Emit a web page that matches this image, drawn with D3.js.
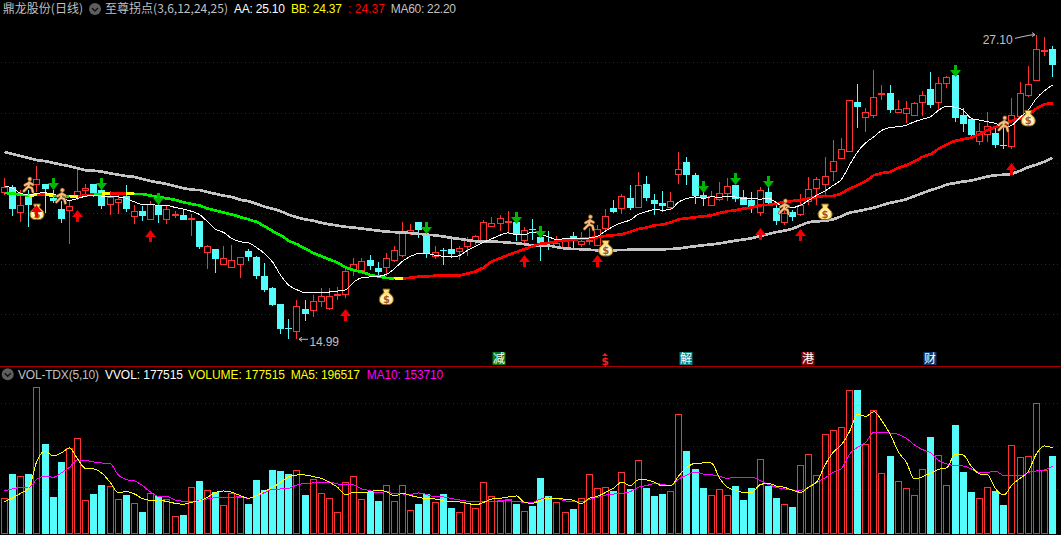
<!DOCTYPE html>
<html><head><meta charset="utf-8">
<script src="https://cdnjs.cloudflare.com/ajax/libs/d3/7.8.5/d3.min.js"></script>
<style>html,body{margin:0;padding:0;background:#000;overflow:hidden}svg{display:block}</style>
</head><body><svg id="c" width="1061" height="535"></svg>
<script>
const opens=[20.85,21.04,20.06,20.64,21.17,21.16,20.60,20.16,20.14,20.68,20.93,21.16,20.94,20.37,20.45,20.67,19.90,20.07,19.78,20.28,19.78,19.95,19.95,19.78,19.68,18.46,18.57,17.99,17.87,17.99,18.49,18.25,17.49,17.02,16.38,15.44,15.32,16.18,16.15,16.51,16.22,16.76,16.79,17.73,17.75,18.13,17.81,17.87,18.16,18.34,19.25,19.64,19.13,18.32,18.53,18.56,18.49,18.70,18.93,18.90,19.51,19.63,19.68,19.66,18.95,19.37,
19.07,18.75,18.66,18.66,19.09,18.77,18.91,18.73,19.42,20.20,20.21,20.60,20.25,21.16,20.52,20.40,20.24,21.57,22.03,21.51,20.72,20.33,20.57,20.81,21.12,20.63,20.52,20.05,20.84,20.20,19.66,20.04,
19.97,20.50,21.02,21.15,21.66,22.18,22.46,24.41,23.81,23.89,24.74,24.76,24.01,23.99,23.91,24.41,24.92,24.41,25.16,25.49,23.89,23.73,22.88,23.17,23.19,22.71,22.69,23.86,24.72,25.31,26.46,26.52];
const closes=[21.06,20.16,20.31,20.32,21.38,20.96,20.48,19.76,20.27,20.90,21.02,20.80,20.28,20.63,20.56,20.15,20.07,19.90,20.37,19.92,20.15,19.99,19.72,19.82,18.65,18.68,18.17,18.24,18.16,18.28,18.25,17.49,16.94,16.35,15.40,15.41,16.30,15.98,16.50,16.72,16.72,16.80,17.72,17.99,18.12,17.89,17.65,18.24,18.52,19.22,19.35,19.33,18.40,18.48,18.50,18.37,18.60,18.99,19.09,19.67,19.63,19.83,19.71,19.17,19.35,19.34,
18.82,18.69,18.83,18.91,18.90,18.91,18.95,19.39,19.91,20.04,20.70,20.20,21.14,20.60,20.36,20.28,20.47,21.74,21.53,20.68,20.59,20.67,20.82,21.10,20.57,20.32,20.23,20.94,20.39,19.70,20.03,19.86,
20.32,20.98,21.38,21.50,22.06,22.57,24.49,24.22,24.03,24.63,24.76,24.11,24.13,24.19,24.39,24.69,24.31,25.16,25.40,23.80,23.54,23.11,23.25,23.48,22.72,22.68,23.91,24.79,25.12,26.52,26.50,25.91];
const highs=[21.39,21.12,20.92,20.92,21.87,21.18,20.92,20.48,20.48,21.79,21.18,21.16,21.32,20.88,20.76,21.12,20.31,20.28,20.48,20.39,20.31,20.10,20.15,19.99,19.68,18.73,18.57,18.69,18.73,18.28,18.56,18.29,18.04,17.07,16.41,15.81,16.57,16.54,16.74,17.04,17.04,17.07,17.87,18.24,18.24,18.33,18.08,18.42,18.69,19.64,19.59,19.64,19.39,18.71,18.61,19.09,18.69,19.06,19.13,19.75,19.84,19.92,20.07,19.72,19.46,19.79,
19.19,19.28,19.09,19.03,19.25,19.25,19.42,19.52,20.16,20.52,20.76,21.12,21.63,21.47,20.78,20.88,20.84,22.43,22.22,21.61,20.92,20.88,21.24,21.40,21.12,20.94,20.85,21.04,21.12,20.32,20.39,20.12,
20.78,21.45,21.45,22.24,22.93,23.00,24.49,25.12,24.17,25.69,25.10,25.10,24.50,24.47,24.43,24.87,25.61,25.40,25.45,25.49,24.17,23.77,23.60,24.03,23.44,23.37,24.60,25.23,25.85,27.10,27.00,26.65];
const lows=[20.72,19.90,19.66,19.46,20.85,20.02,20.39,19.62,18.78,20.52,20.68,20.65,20.16,19.92,19.96,20.06,19.56,19.68,19.78,19.63,19.56,19.80,19.72,19.09,18.58,17.77,17.61,17.96,17.85,17.43,18.09,17.37,16.86,16.33,15.21,15.01,14.99,15.72,15.88,16.27,16.17,16.57,16.63,17.51,17.71,17.73,17.53,17.49,18.06,18.26,19.13,19.02,18.24,18.20,17.95,18.26,18.16,18.29,18.73,18.89,19.46,19.29,19.19,18.90,18.79,18.93,
18.10,18.53,18.60,18.53,18.63,18.65,18.73,18.73,19.26,20.01,19.99,20.12,20.23,20.48,19.92,20.05,20.12,21.16,21.12,20.36,20.28,20.28,20.47,20.47,20.44,20.32,20.01,19.88,20.35,19.52,19.52,19.68,
19.89,20.32,20.32,20.72,21.29,22.18,22.44,23.40,23.24,23.77,24.50,23.99,23.97,23.60,23.90,23.88,24.19,24.07,24.96,23.62,23.24,22.97,22.71,22.84,22.61,22.54,22.54,23.77,24.63,25.30,26.26,25.43];

const ma60=[22.44,22.35,22.27,22.19,22.11,22.07,22.00,21.93,21.87,21.79,21.71,21.69,21.65,21.59,21.53,21.48,21.44,21.36,21.28,21.22,21.16,21.08,21.00,20.94,20.92,20.84,20.77,20.70,20.64,20.54,20.48,20.38,20.26,20.18,20.08,19.94,19.84,19.76,19.70,19.62,19.56,19.51,19.46,19.43,19.39,19.35,19.31,19.27,19.25,19.24,19.21,19.18,19.15,19.12,19.08,19.02,18.98,18.93,18.89,18.88,18.87,18.86,18.83,18.81,18.77,18.73,18.72,18.71,18.65,18.60,18.58,18.57,18.55,18.53,18.53,18.53,18.54,18.55,18.56,18.56,18.57,18.57,18.58,18.60,18.65,18.69,18.73,18.76,18.80,18.86,18.91,18.96,19.01,19.09,19.17,19.25,19.31,19.39,19.52,19.64,19.68,19.70,19.76,19.88,20.02,20.08,20.15,20.22,20.32,20.41,20.48,20.56,20.68,20.80,20.92,21.02,21.14,21.20,21.26,21.30,21.38,21.46,21.51,21.53,21.57,21.69,21.83,21.93,22.05,22.20];
const aa=[21.09,20.99,20.79,20.72,20.80,20.81,20.76,20.63,20.51,20.59,20.68,20.72,20.68,20.65,20.65,20.59,20.45,20.35,20.35,20.31,20.31,20.23,20.17,20.08,19.95,19.66,19.36,19.23,18.99,18.87,18.83,18.64,18.40,18.06,17.53,17.14,16.96,16.84,16.84,16.84,16.87,16.91,16.96,17.27,17.44,17.47,17.49,17.57,17.80,18.10,18.29,18.40,18.40,18.33,18.29,18.26,18.32,18.53,18.69,18.85,18.99,19.13,19.22,19.14,19.15,19.26,19.17,19.06,18.95,18.99,18.99,18.99,19.02,19.09,19.30,19.49,19.63,19.73,19.96,20.06,20.15,20.12,20.16,20.45,20.59,20.65,20.59,20.65,20.64,20.67,20.64,20.59,20.59,20.56,20.59,20.43,20.23,20.23,20.32,20.52,20.72,20.89,21.11,21.34,21.91,22.44,22.80,23.04,23.30,23.41,23.44,23.50,23.64,23.74,23.84,24.10,24.26,24.21,24.10,23.77,23.70,23.64,23.57,23.41,23.50,23.81,24.10,24.56,24.87,25.10];
const bb=[20.81,20.78,20.74,20.70,20.73,20.74,20.70,20.67,20.66,20.67,20.71,20.75,20.77,20.79,20.79,20.78,20.77,20.76,20.70,20.65,20.59,20.53,20.44,20.37,20.31,20.19,20.11,20.03,19.95,19.85,19.76,19.66,19.49,19.29,19.13,18.90,18.77,18.60,18.42,18.29,18.16,18.04,17.84,17.73,17.67,17.55,17.49,17.43,17.40,17.41,17.44,17.48,17.49,17.52,17.52,17.53,17.53,17.60,17.69,17.85,18.09,18.21,18.34,18.46,18.57,18.69,18.79,18.82,18.89,18.91,18.95,18.99,19.01,19.05,19.10,19.13,19.16,19.26,19.37,19.43,19.52,19.55,19.63,19.76,19.80,19.84,19.88,19.92,20.01,20.08,20.12,20.19,20.23,20.32,20.33,20.39,20.44,20.49,20.52,20.59,20.65,20.69,20.69,20.78,20.98,21.11,21.27,21.51,21.60,21.64,21.80,21.91,22.07,22.24,22.35,22.57,22.74,22.88,22.94,23.01,23.14,23.30,23.43,23.54,23.67,23.77,23.90,24.16,24.34,24.37];
// runs of [trend, segments]: -1 falling, 0 flat, 1 rising
const bbTrendRuns=[[-1,3],[0,1],[1,1],[0,1],[-1,2],[0,1],[1,2],[-1,1],[0,1],[1,2],[0,1],[-1,32],[0,1],[1,80]];

const volumes=[79800,136400,131000,136400,337900,206200,82900,164300,196100,219300,75200,89900,110800,107700,77500,87600,68200,48100,91500,85300,77500,38000,41100,105400,120100,98400,93800,63600,91500,82200,66700,122500,99200,145700,143400,136400,144900,87600,124000,91500,79800,47300,117800,131000,77500,94600,73600,110100,72900,110100,51900,66700,89100,71300,89900,57400,47300,67400,56600,117000,84500,73600,77500,66700,49600,62000,127100,85300,70500,47300,55000,79800,135600,103100,105400,96900,140300,101500,168200,103900,85300,89900,96900,275100,189900,148000,103900,86800,100800,86800,108500,76000,103900,170500,108500,80600,65900,59700,156600,182100,133300,228600,237900,244900,330900,331700,205400,284400,138000,178300,119400,103100,86800,147300,222400,179800,110100,250300,141100,94600,79800,105400,96900,64300,203100,175200,177500,300700,145700,177515];
const volMa5=[71300,79800,90700,103900,166600,189100,177500,184500,196100,170500,148000,147300,137200,116300,92200,94600,89100,78300,74400,75200,71300,67400,65100,69800,72900,81400,93000,96100,93000,85300,79100,85300,95300,104600,116300,129400,133300,133300,129400,125600,116300,104600,86800,93000,91500,94600,98400,94600,84500,90700,85300,81400,77500,77500,72900,72100,70500,67400,63600,69800,77500,79100,82200,84500,69800,67400,75200,79100,79100,76700,74400,66700,79100,83700,93000,103100,117000,108500,121700,121700,116300,107700,107700,131800,151100,160400,161200,161200,126300,104600,97700,92200,93000,110800,113900,107700,104600,97700,93000,105400,117800,156600,186000,203800,234100,274400,269700,280600,258900,228600,187600,162800,124000,129400,138000,146500,150400,182100,179800,153500,135600,133300,100800,86800,110100,125600,141100,182100,200700,196517];
const volMa10=[96100,100800,104600,104600,124000,131000,127900,138000,151100,168200,167400,163500,161200,159700,133300,122500,119400,108500,93000,83700,83700,75200,72100,70500,74400,77500,80600,81400,81400,82900,79100,85300,92200,100000,100800,102300,110100,113900,114700,114700,117000,112400,111600,110100,100800,96900,91500,95300,89100,89100,88400,91500,87600,82200,82200,78300,75200,72100,70500,70500,72100,72900,72900,72100,69800,69800,77500,79800,79100,72900,72100,70500,76700,81400,86800,89100,90700,94600,104600,108500,113200,111600,108500,124000,133300,140300,135600,134100,130200,125600,127900,126300,127900,120100,111600,104600,100800,98400,97700,105400,116300,126300,139500,148000,181400,197600,209300,232500,231000,231000,227900,218600,203100,192200,184500,166600,158900,155000,154200,147300,139500,139500,141800,131800,131000,131000,139500,142600,144900,153710];

const priceTicks=[16,18,20,22,24,26];
const volTicks=[100000,200000,300000];
const upArrowIdx=[4,9,18,42,64,73,93,98,124];
const upArrowPrice=[20.32,20.12,19.32,16.21,18.33,18.33,19.42,19.39,21.98];
const downArrowIdx=[6,12,19,52,63,66,86,90,94,117];
const downArrowPrice=[20.92,20.92,20.32,19.19,19.56,19.03,20.79,21.12,21.02,25.43];
const bagIdx=[4,47,74,101,126];
const bagPrice=[20.05,16.67,18.60,20.05,23.77];
const runnerIdx=[3,7,72,96,123];
const runnerPrice=[21.12,20.68,19.62,20.25,23.55];
const newsIdx=[61,74,84,99,114];
const newsText=["减","$","解","港","财"];

const RED="#ff3232",CYAN="#54fcfc",GRID="#8c0000";
const svg=d3.select("#c");
const n=closes.length;
const x=d3.scaleLinear().domain([0,129]).range([4.5,1052.6]);
const y=d3.scaleLinear().domain([16,26]).range([313.9,62.3]);
const yv=d3.scaleLinear().domain([0,300000]).range([532.3,403.3]);
const px=i=>Math.floor(x(i));

svg.append("rect").attr("width",1061).attr("height",535).attr("fill","#000");
// grid: one pixel in four, as the terminal draws it
const pat=svg.append("defs").append("pattern").attr("id","dots").attr("patternUnits","userSpaceOnUse").attr("width",4).attr("height",1);
pat.append("rect").attr("x",1).attr("width",1).attr("height",1).attr("fill",GRID);
const grid=svg.append("g").attr("shape-rendering","crispEdges");
const gridY=priceTicks.map(d=>Math.round(y(d))).concat(volTicks.map(d=>Math.round(yv(d))));
grid.selectAll("rect").data(gridY).join("rect").attr("x",0).attr("width",1061).attr("y",d=>d).attr("height",1).attr("fill","url(#dots)")
  .attr("patternTransform",null);
svg.append("line").attr("x1",0).attr("x2",1061).attr("y1",366.5).attr("y2",366.5).attr("stroke","#a80000").attr("shape-rendering","crispEdges");

// candles
const cg=svg.append("g").attr("shape-rendering","crispEdges");
d3.range(n).forEach(i=>{
  const up=closes[i]>=opens[i];
  const c=up?RED:CYAN, cx=px(i);
  const t=Math.round(y(Math.max(opens[i],closes[i]))), b=Math.round(y(Math.min(opens[i],closes[i])));
  const h=Math.round(y(highs[i])), l=Math.round(y(lows[i]));
  if(up){
    if(h<t) cg.append("line").attr("x1",cx+.5).attr("x2",cx+.5).attr("y1",h).attr("y2",t).attr("stroke",c);
    if(l>b) cg.append("line").attr("x1",cx+.5).attr("x2",cx+.5).attr("y1",b).attr("y2",l).attr("stroke",c);
    cg.append("rect").attr("x",cx-3+.5).attr("y",t+.5).attr("width",6).attr("height",Math.max(b-t,1)).attr("fill","#000").attr("stroke",c);
  }else{
    cg.append("line").attr("x1",cx+.5).attr("x2",cx+.5).attr("y1",h).attr("y2",l).attr("stroke",c);
    cg.append("rect").attr("x",cx-3).attr("y",t).attr("width",7).attr("height",Math.max(b-t,1)).attr("fill",c);
  }
});

// price lines
const ln=(yy)=>d3.line().x((d,i)=>x(i)).y(d=>yy(d)).curve(d3.curveMonotoneX);
svg.append("path").attr("d",ln(y)(ma60)).attr("fill","none").attr("stroke","#c4c4c4").attr("stroke-width",2.7).attr("shape-rendering","crispEdges");
let seg=0;
const trendColor={"-1":"#00f000","0":"#ffff00","1":"#ff0000"};
bbTrendRuns.forEach(([t,c])=>{
  const idx=d3.range(seg,seg+c+1);
  const l=d3.line().x(i=>x(i)).y(i=>y(bb[i]));
  svg.append("path").attr("d",l(idx)).attr("fill","none").attr("stroke",trendColor[t]).attr("stroke-width",2.7).attr("shape-rendering","crispEdges");
  seg+=c;
});
svg.append("path").attr("d",ln(y)(aa)).attr("fill","none").attr("stroke","#fff").attr("stroke-width",1).attr("shape-rendering","crispEdges");

// icons
const marks=svg.append("g");
function bag(cx,cy){
  const g=marks.append("g").attr("transform",`translate(${cx},${cy})`);
  g.append("path").attr("d","M-3.5,-8 L3.5,-8 L2.5,-4.5 L6,-1 C8.2,2.5 6.8,7 2.5,7.5 L-2.5,7.5 C-6.8,7 -8.2,2.5 -6,-1 L-2.5,-4.5 Z").attr("fill","#ffe27a").attr("stroke","#8a5c14").attr("stroke-width",1);
  g.append("ellipse").attr("cx",0).attr("cy",2).attr("rx",5.2).attr("ry",4.4).attr("fill","#fff8d4");
  g.append("text").attr("x",0).attr("y",5.6).attr("text-anchor","middle").attr("font-family","DejaVu Sans").attr("font-size",10).attr("font-weight","bold").attr("fill","#a85a10").text("$");
}
function runner(cx,cy){
  const g=marks.append("g").attr("transform",`translate(${cx},${cy})`).attr("fill","none").attr("stroke-linecap","round").attr("stroke-linejoin","round");
  const body="M0.5,-3 L-0.5,1.5 M-0.5,1.5 L-5,6 M-0.5,1.5 L3,3 L4,7 M0.5,-2.5 L-4,0 M0.5,-2.5 L4,-0.5";
  g.append("path").attr("d",body).attr("stroke","#7a4a18").attr("stroke-width",3.2);
  g.append("path").attr("d",body).attr("stroke","#f6bd80").attr("stroke-width",2);
  g.append("circle").attr("cx",1).attr("cy",-6).attr("r",2.1).attr("fill","#f6bd80").attr("stroke","#7a4a18").attr("stroke-width",.7);
}
runnerIdx.forEach((d,k)=>runner(x(d),y(runnerPrice[k])));
bagIdx.forEach((d,k)=>bag(x(d),y(bagPrice[k])));
upArrowIdx.forEach((d,k)=>{
  const cx=px(d)+.5,t=Math.round(y(upArrowPrice[k]));
  marks.append("path").attr("d",`M${cx},${t} L${cx+5.5},${t+7} L${cx+1.5},${t+7} L${cx+1.5},${t+12} L${cx-1.5},${t+12} L${cx-1.5},${t+7} L${cx-5.5},${t+7} Z`).attr("fill","#f00000");
});
downArrowIdx.forEach((d,k)=>{
  const cx=px(d)+.5,t=Math.round(y(downArrowPrice[k]));
  marks.append("path").attr("d",`M${cx},${t} L${cx+5.5},${t-7} L${cx+1.5},${t-7} L${cx+1.5},${t-12} L${cx-1.5},${t-12} L${cx-1.5},${t-7} L${cx-5.5},${t-7} Z`).attr("fill","#00b800");
});

const LATIN="'Liberation Sans','DejaVu Sans',sans-serif", CJK="'Noto Sans CJK SC','Noto Sans',sans-serif";
function label(t,x0,x1,cy,col,font){
  svg.append("text").attr("x",x0).attr("y",cy+4.2).attr("textLength",x1-x0).attr("lengthAdjust","spacing")
    .attr("font-family",font||LATIN).attr("font-size",12).attr("fill",col).text(t);
}
// extreme labels
label("14.99",309.5,339,341.5,"#c0c0c0");
label("27.10",982.7,1012.7,39.3,"#c0c0c0");
svg.append("path").attr("d",`M${x(36)+2},${y(14.99)} L${308},${y(14.99)} M${x(36)+2},${y(14.99)} l3,-2 M${x(36)+2},${y(14.99)} l3,2`).attr("stroke","#c0c0c0").attr("fill","none");
svg.append("path").attr("d",`M1015,38.3 C1022,37 1028,35 1035,${y(27.10)} l-3,-2 M1035,${y(27.10)} l-3,2`).attr("stroke","#c0c0c0").attr("fill","none");

// news badges
const badgeFill={"减":"#0a7a12","解":"#0a8080","港":"#7e0808","财":"#0c3a6e"};
newsIdx.forEach((d,k)=>{
  const cx=Math.round(x(d)-1.2), t=newsText[k];
  if(t==="$"){
    svg.append("text").attr("x",cx).attr("y",365).attr("text-anchor","middle").attr("font-family","'DejaVu Sans'").attr("font-size",11).attr("font-weight","bold").attr("fill","#ff1a1a").text(t);
    svg.append("path").attr("d",`M${cx-3},356 L${cx},353 L${cx+3},356 Z`).attr("fill","#ff1a1a");
  }else{
    svg.append("rect").attr("x",cx-6.5).attr("y",352).attr("width",13).attr("height",13).attr("fill",badgeFill[t]);
    svg.append("text").attr("x",cx).attr("y",363).attr("text-anchor","middle").attr("font-family",CJK).attr("font-size",12).attr("fill","#fff").text(t);
  }
});

// volume bars
const vg=svg.append("g").attr("shape-rendering","crispEdges");
d3.range(n).forEach(i=>{
  const up=closes[i]>=opens[i], cx=px(i), t=Math.round(yv(volumes[i]));
  if(up) vg.append("rect").attr("x",cx-3+.5).attr("y",t+.5).attr("width",6).attr("height",532.5-t).attr("fill","#000").attr("stroke",RED);
  else vg.append("rect").attr("x",cx-3).attr("y",t).attr("width",7).attr("height",533.5-t).attr("fill",CYAN);
});
svg.append("path").attr("d",ln(yv)(volMa10)).attr("fill","none").attr("stroke","#ff00ff").attr("shape-rendering","crispEdges");
svg.append("path").attr("d",ln(yv)(volMa5)).attr("fill","none").attr("stroke","#ffff00").attr("shape-rendering","crispEdges");

// headers
function chevron(cx,cy){
  svg.append("circle").attr("cx",cx).attr("cy",cy).attr("r",6).attr("fill","#5e5e5e");
  svg.append("path").attr("d",`M${cx-3},${cy-1} L${cx},${cy+2} L${cx+3},${cy-1}`).attr("fill","none").attr("stroke","#111").attr("stroke-width",1.4);
}
label("鼎龙股份(日线)",2.7,83,8.6,"#c0c0c0",CJK);
chevron(95,9);
label("至尊拐点(3,6,12,24,25)",105,228,8.6,"#c0c0c0",CJK);
label("AA: 25.10",234,285,8.6,"#ffffff");
label("BB: 24.37",291,342,8.6,"#ffff00");
label(": 24.37",348,385,8.6,"#ff0000");
label("MA60: 22.20",390.7,456,8.6,"#c0c0c0");
chevron(7.7,374.3);
label("VOL-TDX(5,10)",18,99,374.3,"#c0c0c0");
label("VVOL: 177515",105,183,374.3,"#ffffff");
label("VOLUME: 177515",188,285,374.3,"#ffff00");
label("MA5: 196517",290.7,360,374.3,"#ffff00");
label("MA10: 153710",366.7,443.3,374.3,"#ff00ff");
</script></body></html>
